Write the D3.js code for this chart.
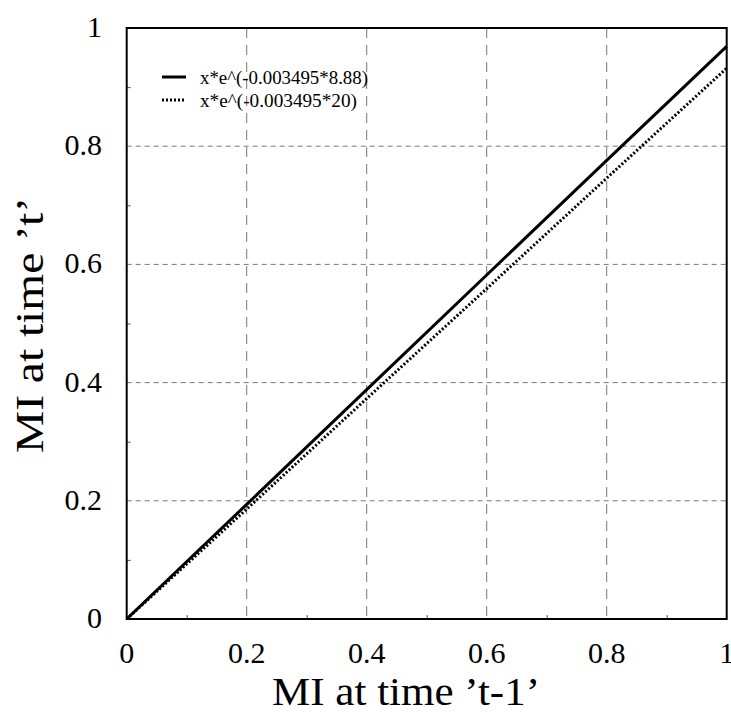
<!DOCTYPE html>
<html>
<head>
<meta charset="utf-8">
<script src="https://cdn.jsdelivr.net/npm/d3@7/dist/d3.min.js"></script>
<style>
  html, body { margin: 0; padding: 0; background: #fff; }
  svg { display: block; }
  text { font-family: "Liberation Serif", "Times New Roman", serif; fill: #000; }
</style>
</head>
<body>
<svg id="chart" width="731" height="722"></svg>
<script>
// ---- data ----
const xValues = [0, 0.2, 0.4, 0.6, 0.8, 1.0];
const seriesSolid = [0, 0.194, 0.388, 0.582, 0.776, 0.969];   // x*e^(-0.003495*8.88)
const seriesDotted = [0, 0.186, 0.373, 0.559, 0.746, 0.932];  // x*e^(-0.003495*20)
const seriesNames = ["x*e^(-0.003495*8.88)", "x*e^(-0.003495*20)"];
const tickValues = [0, 0.2, 0.4, 0.6, 0.8, 1];
const tickLabels = ["0", "0.2", "0.4", "0.6", "0.8", "1"];
const gridValues = [0.2, 0.4, 0.6, 0.8];
const minorTicks = [0.1, 0.3, 0.5, 0.7, 0.9];
const xTitle = "MI at time \u2019t-1\u2019";
const yTitle = "MI at time \u2019t\u2019";

// ---- layout ----
const L = 126.7, R = 726.7, T = 28, B = 619;
const svg = d3.select("#chart");
const x = d3.scaleLinear().domain([0, 1]).range([L, R]);
const y = d3.scaleLinear().domain([0, 1]).range([B, T]);

// grid
const grid = svg.append("g");
grid.selectAll("line.v").data(gridValues).join("line")
  .attr("x1", d => x(d)).attr("x2", d => x(d))
  .attr("y1", T).attr("y2", B)
  .attr("stroke", "#777").attr("stroke-width", 1)
  .attr("stroke-dasharray", "10,7");
grid.selectAll("line.h").data(gridValues).join("line")
  .attr("y1", d => y(d)).attr("y2", d => y(d))
  .attr("x1", L).attr("x2", R)
  .attr("stroke", "#777").attr("stroke-width", 1)
  .attr("stroke-dasharray", "5,4");

// axes (ticks inward)
const xAxis = d3.axisBottom(x).tickValues(minorTicks).tickSize(-4).tickFormat("");
const yAxis = d3.axisLeft(y).tickValues(minorTicks).tickSize(-4).tickFormat("");
const gx = svg.append("g").attr("transform", `translate(0,${B})`).call(xAxis);
const gy = svg.append("g").attr("transform", `translate(${L},0)`).call(yAxis);
[gx, gy].forEach(g => {
  g.select(".domain").remove();
  g.selectAll(".tick line").attr("stroke", "#555").attr("stroke-width", 1);
});

// frame
svg.append("rect").attr("x", L).attr("y", T).attr("width", R - L).attr("height", B - T)
  .attr("fill", "none").attr("stroke", "#000").attr("stroke-width", 2);

// tick labels
svg.append("g").selectAll("text").data(tickValues).join("text")
  .attr("x", d => x(d)).attr("y", B + 44)
  .attr("text-anchor", "middle").attr("font-size", 30)
  .text((d, i) => tickLabels[i]);
svg.append("g").selectAll("text").data(tickValues).join("text")
  .attr("x", 102).attr("y", d => y(d) + 9)
  .attr("text-anchor", "end").attr("font-size", 30)
  .text((d, i) => tickLabels[i]);

// axis titles
svg.append("text").attr("x", 406).attr("y", 705)
  .attr("text-anchor", "middle").attr("font-size", 40)
  .attr("textLength", 268).attr("lengthAdjust", "spacingAndGlyphs")
  .text(xTitle);
svg.append("text").attr("transform", "translate(43,325) rotate(-90)")
  .attr("text-anchor", "middle").attr("font-size", 40)
  .attr("textLength", 256).attr("lengthAdjust", "spacingAndGlyphs")
  .text(yTitle);

// lines
const pts = arr => xValues.map((v, i) => [v, arr[i]]);
const line = d3.line().x(d => x(d[0])).y(d => y(d[1]));
svg.append("path").attr("d", line(pts(seriesDotted)))
  .attr("fill", "none").attr("stroke", "#000").attr("stroke-width", 3)
  .attr("stroke-dasharray", "2,2");
svg.append("path").attr("d", line(pts(seriesSolid)))
  .attr("fill", "none").attr("stroke", "#000").attr("stroke-width", 3);

// legend
const leg = svg.append("g");
leg.append("line").attr("x1", 162).attr("x2", 186).attr("y1", 77).attr("y2", 77)
  .attr("stroke", "#000").attr("stroke-width", 3);
leg.append("line").attr("x1", 162).attr("x2", 184).attr("y1", 100).attr("y2", 100)
  .attr("stroke", "#000").attr("stroke-width", 3).attr("stroke-dasharray", "2,2");
leg.append("text").attr("x", 200).attr("y", 84).attr("font-size", 19)
  .attr("textLength", 168).attr("lengthAdjust", "spacingAndGlyphs").text(seriesNames[0]);
leg.append("text").attr("x", 200).attr("y", 107).attr("font-size", 19)
  .attr("textLength", 157).attr("lengthAdjust", "spacingAndGlyphs").text(seriesNames[1]);
</script>
</body>
</html>
